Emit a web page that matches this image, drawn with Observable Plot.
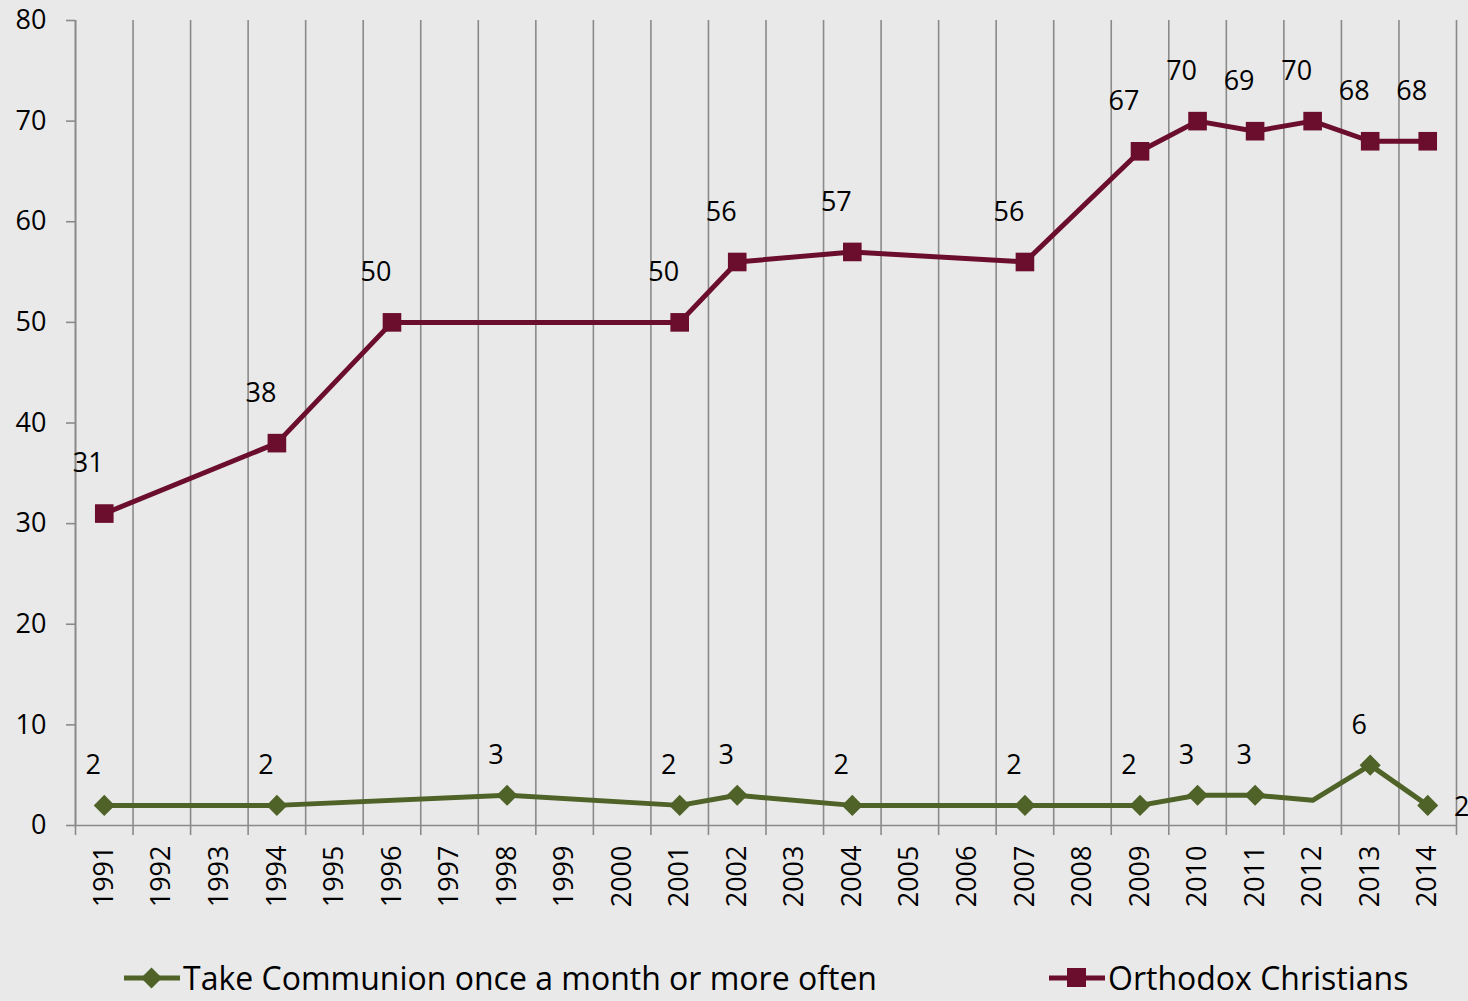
<!DOCTYPE html>
<html>
<head>
<meta charset="utf-8">
<script src="https://cdn.jsdelivr.net/npm/d3@7"></script>
<script src="https://cdn.jsdelivr.net/npm/@observablehq/plot@0.6"></script>
<style>
  html, body { margin: 0; padding: 0; background: #e9e9e9; }
  body { width: 1468px; height: 1001px; overflow: hidden; font-family: "Open Sans", sans-serif; }
  #wrap { position: relative; width: 1468px; height: 1001px; }
  #legend { position: absolute; left: 0; top: 958px; width: 1468px; height: 40px; }
  .item { position: absolute; top: 0; display: flex; align-items: center; font-size: 32px; line-height: 40px; height: 40px; color: #000; white-space: nowrap; }
  .item svg { margin-right: 3px; }
</style>
</head>
<body>
<div id="wrap">
  <div id="chart"></div>
  <div id="legend"></div>
</div>
<script>
// ---- data ----
const yearTicks = [1991,1992,1993,1994,1995,1996,1997,1998,1999,2000,2001,2002,2003,2004,2005,2006,2007,2008,2009,2010,2011,2012,2013,2014];
const yTicks = [0,10,20,30,40,50,60,70,80];

const orthodoxYears  = [1991,1994,1996,2001,2002,2004,2007,2009,2010,2011,2012,2013,2014];
const orthodoxValues = [31,38,50,50,56,57,56,67,70,69,70,68,68];

const communionYears  = [1991,1994,1998,2001,2002,2004,2007,2009,2010,2011,2012,2013,2014];
const communionValues = [2,2,3,2,3,2,2,2,3,3,2.5,6,2];
const communionLabels = ["2","2","3","2","3","2","2","2","3","3",null,"6","2"];

const seriesNames = ["Take Communion once a month or more often", "Orthodox Christians"];
const colors = ["#4f6228", "#6b0d2d"];

// ---- tables ----
const orthodox = orthodoxYears.map((y, i) => ({year: y, value: orthodoxValues[i], label: String(orthodoxValues[i])}));
const communion = communionYears.map((y, i) => ({year: y, value: communionValues[i], label: communionLabels[i], last: i === communionYears.length - 1}));
const boundaries = [yearTicks[0] - 0.5, ...yearTicks.map(y => y + 0.5)];

const font = "'Open Sans', sans-serif";

const chart = Plot.plot({
  width: 1468,
  height: 945,
  marginLeft: 75,
  marginRight: 12,
  marginTop: 20,
  marginBottom: 120,
  style: {background: "transparent", fontFamily: font, fontSize: "27px", color: "#000", overflow: "visible"},
  x: {type: "linear", domain: [yearTicks[0] - 0.5, yearTicks[yearTicks.length - 1] + 0.5]},
  y: {domain: [0, 80]},
  marks: [
    Plot.gridX(boundaries, {stroke: "#8a8a8a", strokeOpacity: 1, strokeWidth: 1.6}),
    Plot.axisX(boundaries, {tickSize: 10, stroke: "#8a8a8a", strokeWidth: 1.6, tickFormat: () => "", label: null}),
    Plot.axisX(yearTicks, {tickSize: 0, tickPadding: 20, tickRotate: -90, tickFormat: d => String(d), label: null, fontSize: 27, fill: "#000"}),
    Plot.axisY(yTicks, {tickSize: 9, tickPadding: 20, stroke: "#8a8a8a", strokeWidth: 1.6, label: null, fontSize: 27, fill: "#000"}),
    Plot.ruleX([yearTicks[0] - 0.5], {y1: 0, y2: 80, stroke: "#8a8a8a", strokeWidth: 1.6}),
    Plot.ruleY([0], {stroke: "#8a8a8a", strokeWidth: 1.6}),

    // Orthodox Christians
    Plot.line(orthodox, {x: "year", y: "value", stroke: colors[1], strokeWidth: 5}),
    Plot.dot(orthodox, {x: "year", y: "value", symbol: "square", r: 10.5, fill: colors[1], stroke: "none"}),
    Plot.text(orthodox, {x: "year", y: "value", text: "label", dx: -16, dy: -50, fontSize: 27, fill: "#000"}),

    // Communion
    Plot.line(communion, {x: "year", y: "value", stroke: colors[0], strokeWidth: 5}),
    Plot.dot(communion.filter(d => d.label != null), {x: "year", y: "value", symbol: "diamond2", r: 9.5, fill: colors[0], stroke: "none"}),
    Plot.text(communion.filter(d => d.label != null && !d.last), {x: "year", y: "value", text: "label", dx: -11, dy: -40, fontSize: 27, fill: "#000"}),
    Plot.text(communion.filter(d => d.last), {x: "year", y: "value", text: "label", dx: 34, dy: 2, fontSize: 27, fill: "#000"})
  ]
});
document.getElementById("chart").appendChild(chart);

// ---- legend ----
const legend = document.getElementById("legend");
const legendItems = [
  {name: seriesNames[0], color: colors[0], symbol: "diamond", left: 124},
  {name: seriesNames[1], color: colors[1], symbol: "square", left: 1049}
];
for (const it of legendItems) {
  const div = document.createElement("div");
  div.className = "item";
  div.style.left = it.left + "px";
  const shape = it.symbol === "square"
    ? `<rect x="18" y="10" width="19" height="19" fill="${it.color}"/>`
    : `<path d="M27.5,9.5 L38,20 L27.5,30.5 L17,20 Z" fill="${it.color}"/>`;
  div.innerHTML = `<svg width="56" height="40" viewBox="0 0 56 40"><line x1="0" y1="20" x2="56" y2="20" stroke="${it.color}" stroke-width="5"/>${shape}</svg><span>${it.name}</span>`;
  legend.appendChild(div);
}
</script>
</body>
</html>
